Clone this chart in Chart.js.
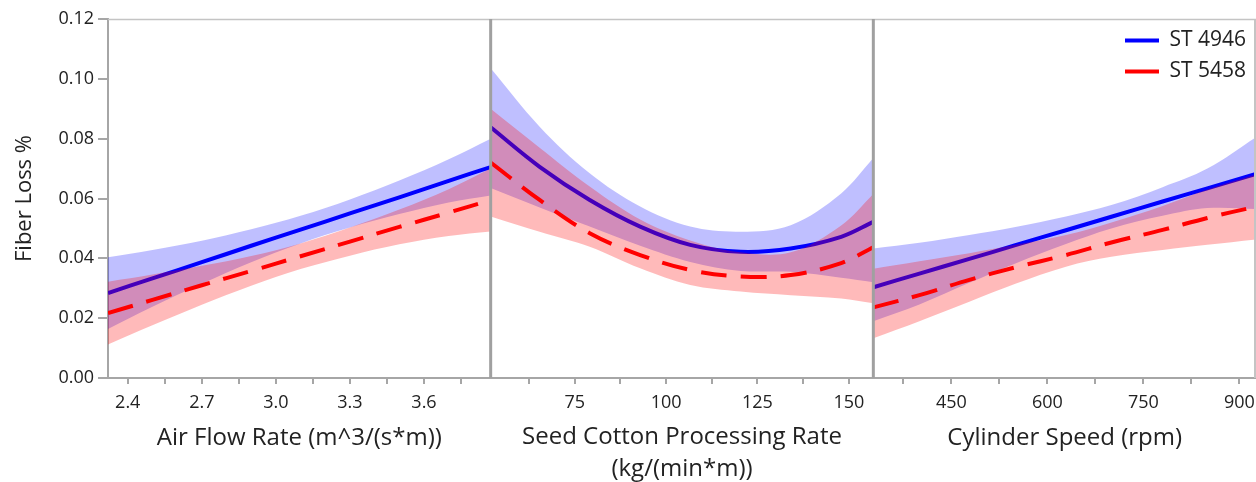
<!DOCTYPE html>
<html>
<head>
<meta charset="utf-8">
<script src="https://cdn.jsdelivr.net/npm/chart.js@4.4.1/dist/chart.umd.min.js"></script>
<style>
  html, body { margin:0; padding:0; background:#fff; }
</style>
</head>
<body>
<canvas id="chart" width="1256" height="482"></canvas>
<script>
// ---- data ----
const seriesNames = ['ST 4946', 'ST 5458'];
const yTicks = [0, 0.02, 0.04, 0.06, 0.08, 0.10, 0.12];

// panel 1: air flow rate
const airX      = [2.32, 2.5, 2.7, 2.9, 3.1, 3.3, 3.5, 3.7, 3.87];
const airBlue   = [0.0284, 0.0333, 0.0387, 0.0442, 0.0496, 0.0550, 0.0604, 0.0659, 0.0705];
const airBlueHi = [0.0404, 0.0428, 0.0459, 0.0497, 0.0542, 0.0597, 0.0660, 0.0731, 0.0800];
const airBlueLo = [0.0164, 0.0238, 0.0315, 0.0387, 0.0450, 0.0503, 0.0548, 0.0587, 0.0610];
const airRed    = [0.0217, 0.0261, 0.0310, 0.0358, 0.0407, 0.0456, 0.0505, 0.0553, 0.0595];
const airRedHi  = [0.0322, 0.0346, 0.0375, 0.0408, 0.0450, 0.0503, 0.0563, 0.0631, 0.0700];
const airRedLo  = [0.0112, 0.0176, 0.0245, 0.0308, 0.0364, 0.0409, 0.0447, 0.0475, 0.0490];
const airTicks  = [2.4, 2.7, 3.0, 3.3, 3.6];
const airMinor  = [2.55, 2.85, 3.15, 3.45, 3.75];

// panel 2: seed cotton processing rate
const rateX      = [52, 65.4, 79.1, 92.9, 106.6, 120.4, 134.1, 147.9, 156.7];
const rateBlue   = [0.0838, 0.0706, 0.0595, 0.0506, 0.0445, 0.0422, 0.0433, 0.0472, 0.0522];
const rateBlueHi = [0.1035, 0.0840, 0.0684, 0.0573, 0.0506, 0.0489, 0.0511, 0.0617, 0.0735];
const rateBlueLo = [0.0635, 0.0570, 0.0506, 0.0442, 0.0388, 0.0358, 0.0355, 0.0335, 0.0320];
const rateRed    = [0.0720, 0.0595, 0.0484, 0.0411, 0.0361, 0.0339, 0.0344, 0.0384, 0.0437];
const rateRedHi  = [0.0900, 0.0770, 0.0640, 0.0530, 0.0460, 0.0420, 0.0420, 0.0510, 0.0615];
const rateRedLo  = [0.0540, 0.0489, 0.0439, 0.0367, 0.0311, 0.0289, 0.0277, 0.0266, 0.0250];
const rateTicks  = [75, 100, 125, 150];
const rateMinor  = [62.5, 87.5, 112.5, 137.5];

// panel 3: cylinder speed
const speedX      = [328, 400, 478, 550, 629, 700, 780, 850, 926];
const speedBlue   = [0.0303, 0.0349, 0.0398, 0.0444, 0.0494, 0.0539, 0.0590, 0.0634, 0.0682];
const speedBlueHi = [0.0433, 0.0452, 0.0478, 0.0505, 0.0540, 0.0578, 0.0638, 0.0700, 0.0805];
const speedBlueLo = [0.0190, 0.0246, 0.0318, 0.0383, 0.0448, 0.0500, 0.0542, 0.0568, 0.0565];
const speedRed    = [0.0236, 0.0277, 0.0328, 0.0370, 0.0411, 0.0453, 0.0495, 0.0535, 0.0573];
const speedRedHi  = [0.0365, 0.0390, 0.0417, 0.0445, 0.0478, 0.0520, 0.0575, 0.0630, 0.0680];
const speedRedLo  = [0.0133, 0.0190, 0.0255, 0.0315, 0.0372, 0.0405, 0.0428, 0.0445, 0.0463];
const speedTicks  = [450, 600, 750, 900];
const speedMinor  = [375, 525, 675, 825];

// ---- styling ----
const FONT = "'Open Sans', 'Noto Sans', sans-serif";
const TEXT = '#222';
const AXIS = '#a6a6a6';
const BLUE = '#0000ff', RED = '#ff0000';
const BLUE_FILL = 'rgba(0,0,255,0.25)', RED_FILL = 'rgba(255,0,0,0.27)';
const SMOOTH = 0.35;

const pts = (xs, ys) => xs.map((x, i) => ({ x, y: ys[i] }));

function panel(axisId, xs, blue, blueHi, blueLo, red, redHi, redLo){
  const band = (ys, color, order, fill) => ({
    data: pts(xs, ys), xAxisID: axisId, label: '', borderWidth: 0, pointRadius: 0,
    backgroundColor: color, fill: fill, order, tension: SMOOTH
  });
  return [
    band(blueHi, BLUE_FILL, 4, '+1'),
    band(blueLo, BLUE_FILL, 4, false),
    { data: pts(xs, blue), xAxisID: axisId, label: seriesNames[0], borderColor: BLUE, backgroundColor: BLUE,
      borderWidth: 4, pointRadius: 0, fill: false, order: 3, tension: SMOOTH },
    band(redHi, RED_FILL, 2, '+1'),
    band(redLo, RED_FILL, 2, false),
    { data: pts(xs, red), xAxisID: axisId, label: seriesNames[1], borderColor: RED, backgroundColor: RED,
      borderWidth: 4, borderDash: [26, 14], pointRadius: 0, fill: false, order: 1, tension: SMOOTH }
  ];
}

const datasets = [
  ...panel('x1', airX, airBlue, airBlueHi, airBlueLo, airRed, airRedHi, airRedLo),
  ...panel('x2', rateX, rateBlue, rateBlueHi, rateBlueLo, rateRed, rateRedHi, rateRedLo),
  ...panel('x3', speedX, speedBlue, speedBlueHi, speedBlueLo, speedRed, speedRedHi, speedRedLo)
];

function xAxis(min, max, major, minor, fmt, title, titleFont, titlePad){
  return {
    type: 'linear', position: 'bottom', stack: 'panels', stackWeight: 1,
    min, max,
    afterBuildTicks: s => { s.ticks = [...major, ...minor].sort((a, b) => a - b).map(v => ({ value: v })); },
    afterFit: s => { s.height = 104; s.paddingLeft = 0; s.paddingRight = 0; },
    grid: { drawOnChartArea: false, drawTicks: true, tickLength: 6, color: AXIS, lineWidth: 2 },
    border: { display: true, color: AXIS, width: 2 },
    ticks: {
      autoSkip: false, maxRotation: 0, includeBounds: false, padding: 8,
      color: TEXT, font: { family: FONT, size: 18 },
      callback: v => major.includes(v) ? fmt(v) : ''
    },
    title: { display: true, text: title, color: TEXT, font: titleFont, padding: { top: 0, bottom: titlePad } }
  };
}

// panel frame: top edge, separators between panels, right edge
const framePlugin = {
  id: 'frame',
  afterDatasetsDraw(chart){
    const { ctx, chartArea: a } = chart;
    ctx.save();
    ctx.strokeStyle = '#c4c4c4'; ctx.lineWidth = 1.5;
    ctx.beginPath(); ctx.moveTo(a.left, a.top + 0.5); ctx.lineTo(a.right, a.top + 0.5); ctx.stroke();
    ['x1', 'x2'].forEach(id => {
      const s = chart.scales[id];
      ctx.strokeStyle = '#a0a0a0'; ctx.lineWidth = 3;
      ctx.beginPath(); ctx.moveTo(s.right, a.top); ctx.lineTo(s.right, a.bottom); ctx.stroke();
    });
    ctx.strokeStyle = '#c4c4c4'; ctx.lineWidth = 2;
    ctx.beginPath(); ctx.moveTo(a.right - 1, a.top); ctx.lineTo(a.right - 1, a.bottom); ctx.stroke();
    ctx.restore();
  }
};

// put the in-plot legend in the top right corner
const legendPlace = {
  id: 'legendPlace',
  afterLayout(chart){
    const lg = chart.legend, a = chart.chartArea;
    if (!lg) return;
    const w = lg.width;
    lg.left = a.right - 141; lg.right = lg.left + w;
    lg.top = a.top + 1; lg.bottom = a.bottom;
  }
};

new Chart(document.getElementById('chart'), {
  type: 'line',
  data: { datasets },
  plugins: [framePlugin, legendPlace],
  options: {
    responsive: false, animation: false,
    layout: { padding: { top: 19, right: 0, left: 0, bottom: 0 } },
    scales: {
      x1: xAxis(airX[0], airX[airX.length - 1], airTicks, airMinor, v => v.toFixed(1),
        'Air Flow Rate (m^3/(s*m))', { family: FONT, size: 24 }, 29.6),
      x2: xAxis(rateX[0], rateX[rateX.length - 1], rateTicks, rateMinor, v => String(v),
        ['Seed Cotton Processing Rate', '(kg/(min*m))'], { family: FONT, size: 24, lineHeight: 1.333 }, -3),
      x3: xAxis(speedX[0], speedX[speedX.length - 1], speedTicks, speedMinor, v => String(v),
        'Cylinder Speed (rpm)', { family: FONT, size: 24 }, 29.6),
      y: {
        type: 'linear', position: 'left', min: 0, max: 0.12,
        afterBuildTicks: s => { s.ticks = yTicks.map(v => ({ value: v })); },
        afterFit: s => { s.width = 108; },
        grid: { drawOnChartArea: false, drawTicks: true, tickLength: 10, color: AXIS, lineWidth: 2 },
        border: { display: true, color: AXIS, width: 2 },
        ticks: { padding: 4, color: TEXT, font: { family: FONT, size: 18 }, callback: v => v.toFixed(2) },
        title: { display: true, text: 'Fiber Loss %', color: TEXT, font: { family: FONT, size: 22 }, padding: { top: 12, bottom: 0 } }
      }
    },
    plugins: {
      tooltip: { enabled: false },
      legend: {
        position: 'chartArea', align: 'start',
        labels: {
          usePointStyle: true, pointStyle: 'line', pointStyleWidth: 34,
          color: TEXT, font: { family: FONT, size: 21 }, padding: 10,
          filter: item => item.datasetIndex === 2 || item.datasetIndex === 5,
          sort: (a, b) => a.datasetIndex - b.datasetIndex,
          generateLabels: chart => {
            const items = Chart.defaults.plugins.legend.labels.generateLabels(chart);
            items.forEach(it => { if (it.lineDash && it.lineDash.length) it.lineDash = [12, 5]; });
            return items;
          }
        }
      }
    }
  }
});
</script>
</body>
</html>
